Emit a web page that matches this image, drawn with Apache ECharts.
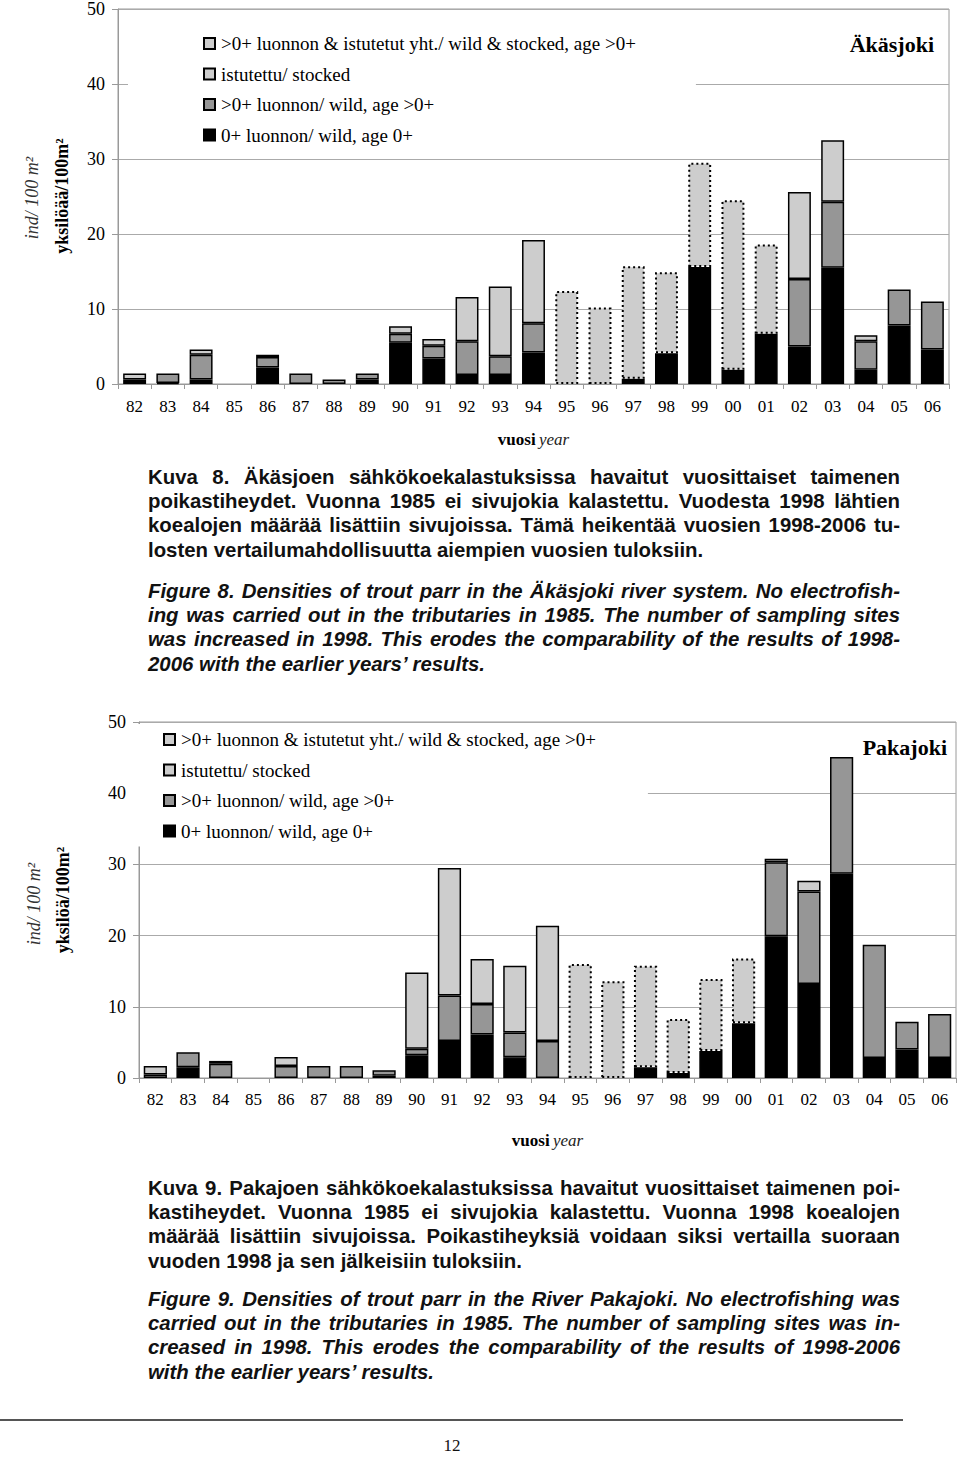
<!DOCTYPE html>
<html>
<head>
<meta charset="utf-8">
<script src="https://cdn.jsdelivr.net/npm/echarts@6/dist/echarts.min.js"></script>
<style>
  html, body { margin: 0; padding: 0; background: #fff; }
  body { position: relative; width: 960px; height: 1457px; overflow: hidden; }
  .chart { position: absolute; left: 0; width: 960px; height: 470px; }
  .ln { position: absolute; left: 148px; width: 752px; height: 24px; line-height: 24px;
        font-family: "Liberation Sans", Arial, sans-serif; font-weight: 700; font-size: 20.4px;
        color: #111; text-align: justify; text-align-last: justify; }
  .ln.last { text-align-last: left; }
  .ln.en { font-style: italic; }
  #rule { position: absolute; left: 0; top: 1419px; width: 903px; height: 0; border-top: 2px solid #555; }
  #pg { position: absolute; left: 432px; top: 1436px; width: 40px; text-align: center;
        font-family: "Liberation Serif", serif; font-size: 17px; color: #111; }
</style>
</head>
<body>
<div id="c1" class="chart" style="top:0px"></div>
<div id="c2" class="chart" style="top:700px"></div>
<div id="caps"></div>
<div id="rule"></div>
<div id="pg">12</div>
<script>
// ---------- data ----------
const years = ['82','83','84','85','86','87','88','89','90','91','92','93','94','95','96','97','98','99','00','01','02','03','04','05','06'];
const yTicks = [0, 10, 20, 30, 40, 50];

const seriesNames = ['0+ luonnon/ wild, age 0+', '>0+ luonnon/ wild, age >0+', 'istutettu/ stocked', '>0+ luonnon & istutetut yht./ wild & stocked, age >0+'];

// Äkäsjoki
const akWild0      = [0.6, 0.15, 0.6, null, 2.2, null, null, 0.6, 5.5, 3.4, 1.2, 1.2, 4.2, null, null, 0.7, 4.1, 15.6, 1.9, 6.7, 5.0, 15.5, 1.9, 7.8, 4.6];
const akWildOlder  = [null, 1.25, 3.3, null, 1.4, 1.4, 0.6, 0.8, 1.2, 1.7, 4.5, 2.5, 3.9, null, null, null, null, null, null, null, 9.0, 8.8, 3.8, 4.8, 6.4];
const akStocked    = [0.8, null, 0.7, null, 0.3, null, null, null, 1.0, 0.9, 5.9, 9.3, 11.1, null, null, null, null, null, null, null, 11.6, 8.2, 0.8, null, null];
const akCombined   = [null, null, null, null, null, null, null, null, null, null, null, null, null, 12.4, 10.2, 15.0, 10.8, 13.9, 22.6, 11.9, null, null, null, null, null];

// Pakajoki
const paWild0      = [null, 1.5, null, null, null, null, null, 0.3, 3.2, 5.2, 6.1, 2.9, null, null, null, 1.5, 0.7, 3.8, 7.7, 19.9, 13.2, 28.7, 2.8, 4.0, 2.8];
const paWildOlder  = [0.5, 2.1, 2.0, null, 1.7, 1.7, 1.7, 0.8, 0.9, 6.4, 4.3, 3.5, 5.2, null, null, null, null, null, null, 10.4, 13.0, 16.4, 15.9, 3.9, 6.2];
const paStocked    = [1.2, null, 0.4, null, 1.25, null, null, null, 10.7, 17.9, 6.3, 9.35, 16.2, null, null, null, null, null, null, 0.5, 1.5, null, null, null, null];
const paCombined   = [null, null, null, null, null, null, null, null, null, null, null, null, null, 16.0, 13.6, 14.25, 7.6, 10.1, 9.1, null, null, null, null, null, null];

// captions
const cap8fi = ['Kuva 8. Äkäsjoen sähkökoekalastuksissa havaitut vuosittaiset taimenen',
  'poikastiheydet. Vuonna 1985 ei sivujokia kalastettu. Vuodesta 1998 lähtien',
  'koealojen määrää lisättiin sivujoissa. Tämä heikentää vuosien 1998-2006 tu-',
  'losten vertailumahdollisuutta aiempien vuosien tuloksiin.'];
const cap8en = ['Figure 8. Densities of trout parr in the Äkäsjoki river system. No electrofish-',
  'ing was carried out in the tributaries in 1985. The number of sampling sites',
  'was increased in 1998. This erodes the comparability of the results of 1998-',
  '2006 with the earlier years’ results.'];
const cap9fi = ['Kuva 9. Pakajoen sähkökoekalastuksissa havaitut vuosittaiset taimenen poi-',
  'kastiheydet. Vuonna 1985 ei sivujokia kalastettu. Vuonna 1998 koealojen',
  'määrää lisättiin sivujoissa. Poikastiheyksiä voidaan siksi vertailla suoraan',
  'vuoden 1998 ja sen jälkeisiin tuloksiin.'];
const cap9en = ['Figure 9. Densities of trout parr in the River Pakajoki. No electrofishing was',
  'carried out in the tributaries in 1985. The number of sampling sites was in-',
  'creased in 1998. This erodes the comparability of the results of 1998-2006',
  'with the earlier years’ results.'];

// ---------- captions ----------
function addCaption(lines, firstCenter, cls) {
  const host = document.getElementById('caps');
  lines.forEach((t, i) => {
    const d = document.createElement('div');
    d.className = 'ln ' + cls + (i === lines.length - 1 ? ' last' : '');
    d.style.top = (firstCenter + i * 24.2 - 12) + 'px';
    d.textContent = t;
    host.appendChild(d);
  });
}
addCaption(cap8fi, 477, 'fi');
addCaption(cap8en, 591, 'en');
addCaption(cap9fi, 1188, 'fi');
addCaption(cap9en, 1299, 'en');

// ---------- charts ----------
const SERIF = '"Liberation Serif", "Times New Roman", serif';
const COLORS = ['#000000', '#969696', '#cdcdcd', '#cdcdcd'];

function makeSeries(data, i, gap) {
  const dotted = i === 3;
  return {
    type: 'bar', name: seriesNames[i], stack: 'total', data: data,
    barCategoryGap: gap,
    itemStyle: { color: COLORS[i], borderColor: '#000', borderWidth: dotted ? 2 : 1.5,
                 borderType: dotted ? [2, 3] : 'solid' },
    emphasis: { disabled: true }, animation: false, silent: true
  };
}

function buildOption(cfg) {
  return {
    animation: false,
    grid: { left: cfg.grid.left, right: cfg.grid.right, top: cfg.grid.top, bottom: cfg.grid.bottom,
            show: true, borderColor: '#9a9a9a', borderWidth: 1, containLabel: false },
    title: { text: cfg.title, right: cfg.titleRight, top: cfg.titleTop,
             textStyle: { fontFamily: SERIF, fontWeight: 'bold', fontSize: 22, color: '#000' } },
    legend: {
      orient: 'vertical', left: cfg.legend.left, top: cfg.legend.top, z: 10,
      padding: cfg.legend.padding, backgroundColor: '#fff', icon: 'rect',
      itemWidth: 11, itemHeight: 11, itemGap: 11.5, selectedMode: false,
      data: [seriesNames[3], seriesNames[2], seriesNames[1], seriesNames[0]],
      textStyle: { fontFamily: SERIF, fontSize: 19, color: '#000', lineHeight: 19, padding: [0, 0, 0, 1] }
    },
    xAxis: {
      type: 'category', data: years, boundaryGap: true,
      axisLine: { lineStyle: { color: '#999', width: 1 } },
      axisTick: { show: true, length: 5, lineStyle: { color: '#999' } },
      axisLabel: { fontFamily: SERIF, fontSize: 17, color: '#000', margin: cfg.xLabelMargin },
      name: '{b|vuosi} {i|year}', nameLocation: 'middle', nameGap: cfg.xNameGap,
      nameTextStyle: { rich: {
        b: { fontFamily: SERIF, fontWeight: 'bold', fontSize: 17, color: '#000' },
        i: { fontFamily: SERIF, fontStyle: 'italic', fontSize: 17, color: '#222' } } }
    },
    yAxis: {
      type: 'value', min: yTicks[0], max: yTicks[yTicks.length - 1], interval: 10,
      axisLine: { show: true, lineStyle: { color: '#999' } },
      axisTick: { show: true, length: 6, lineStyle: { color: '#999' } },
      axisLabel: { fontFamily: SERIF, fontSize: 18, color: '#000', margin: 13 },
      splitLine: { show: true, lineStyle: { color: '#aaa', width: 1 } }
    },
    graphic: [
      { type: 'text', x: cfg.yName1.x, y: cfg.yName1.y, rotation: Math.PI / 2,
        style: { text: 'ind/ 100 m²', font: 'italic 18px ' + SERIF, fill: '#333',
                 align: 'center', verticalAlign: 'middle' } },
      { type: 'text', x: cfg.yName2.x, y: cfg.yName2.y, rotation: Math.PI / 2,
        style: { text: cfg.yNameText, font: 'bold 18px ' + SERIF, fill: '#000',
                 align: 'center', verticalAlign: 'middle' } }
    ],
    series: cfg.data.map((d, i) => makeSeries(d, i, cfg.gap))
  };
}

const c1 = echarts.init(document.getElementById('c1'), null, { renderer: 'svg' });
c1.setOption(buildOption({
  grid: { left: 118, right: 11, top: 8, bottom: 86 },
  title: 'Äkäsjoki', titleRight: 21, titleTop: 28,
  legend: { left: 128, top: 30, padding: [4, 60, 4, 75] },
  xLabelMargin: 14, xNameGap: 47, gap: '31%',
  yName1: { x: 32, y: 198 }, yName2: { x: 62, y: 196 },
  yNameText: 'yksilöää/100m²',
  data: [akWild0, akWildOlder, akStocked, akCombined]
}));

const c2 = echarts.init(document.getElementById('c2'), null, { renderer: 'svg' });
c2.setOption(buildOption({
  grid: { left: 139, right: 4, top: 22, bottom: 92 },
  title: 'Pakajoki', titleRight: 8, titleTop: 31,
  legend: { left: 130, top: 24, padding: [6, 52, 6, 33] },
  xLabelMargin: 13, xNameGap: 54, gap: '29%',
  yName1: { x: 34, y: 204 }, yName2: { x: 63, y: 200 },
  yNameText: 'yksilöä/100m²',
  data: [paWild0, paWildOlder, paStocked, paCombined]
}));
</script>
</body>
</html>
